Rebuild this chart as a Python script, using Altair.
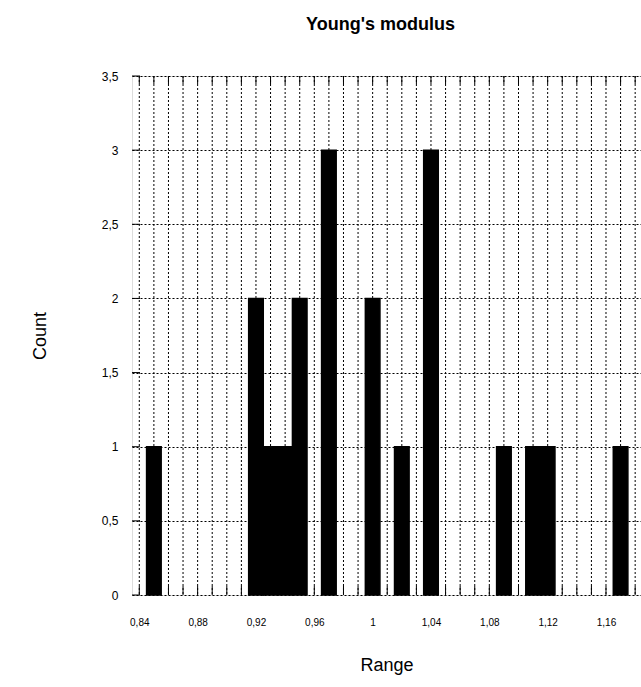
import altair as alt
import pandas as pd

# Data
bin_centers = [0.85, 0.92, 0.93, 0.94, 0.95, 0.97, 1.00, 1.02, 1.04, 1.09, 1.11, 1.12, 1.17]
counts = [1, 2, 1, 1, 2, 3, 2, 1, 3, 1, 1, 1, 1]
bin_width = 0.01

x_tick_labels = ["0,84", "0,88", "0,92", "0,96", "1", "1,04", "1,08", "1,12", "1,16"]
x_grid_values = [round(0.84 + 0.01 * i, 2) for i in range(35)]
y_tick_values = [0, 0.5, 1, 1.5, 2, 2.5, 3, 3.5]

df = pd.DataFrame({"center": bin_centers, "count": counts})
df["start"] = (df["center"] - bin_width / 2).round(4)
df["end"] = (df["center"] + bin_width / 2).round(4)

W, H = 509, 519
XDOM = [0.835, 1.184]
FONT = "Liberation Sans"

xfmt = "replace(format(datum.value, '.2~f'), '.', ',')"
label_list = "[" + ",".join(f"'{s}'" for s in x_tick_labels) + "]"
x_label_expr = f"indexof({label_list}, {xfmt}) >= 0 ? {xfmt} : ''"
y_label_expr = "replace(format(datum.value, '.1~f'), '.', ',')"

x_scale = alt.Scale(domain=XDOM, nice=False, zero=False)
y_scale = alt.Scale(domain=[0, 3.5], nice=False)

xt = pd.DataFrame({"v": x_grid_values})
yt = pd.DataFrame({"v": y_tick_values})

# dotted vertical grid lines every 0.01 (drawn under the bars)
vgrid = alt.Chart(xt).mark_rule(color="black", strokeWidth=1, strokeDash=[2, 2]).encode(
    x=alt.X(
        "v:Q",
        scale=x_scale,
        axis=alt.Axis(
            values=x_grid_values,
            labelExpr=x_label_expr,
            labelOverlap=False,
            labelFlush=False,
            labelBound=False,
            title="Range",
            grid=False,
            ticks=False,
            domain=False,
            labelPadding=22,
            labelFontSize=10,
            labelFont=FONT,
            labelColor="black",
            titleFont=FONT,
            titleFontSize=18,
            titleFontWeight="normal",
            titleColor="black",
            titleY=70,
            titleBaseline="middle",
        ),
    ),
    y=alt.value(0),
    y2=alt.value(H),
)

bars = alt.Chart(df).mark_rect(
    color="black", stroke="black", strokeWidth=1.5
).encode(
    x=alt.X("start:Q", scale=x_scale),
    x2="end:Q",
    y=alt.Y(
        "count:Q",
        scale=y_scale,
        axis=alt.Axis(
            values=y_tick_values,
            labelExpr=y_label_expr,
            title="Count",
            grid=True,
            gridDash=[2, 2],
            gridColor="black",
            gridOpacity=1,
            gridWidth=1,
            ticks=False,
            domain=False,
            labelPadding=14,
            labelFontSize=12,
            labelFont=FONT,
            labelColor="black",
            titleFont=FONT,
            titleFontSize=18,
            titleFontWeight="normal",
            titleColor="black",
            titleX=-92,
            titleY=H / 2,
            titleBaseline="middle",
        ),
    ),
    y2=alt.value(H),
)

# inward tick marks on top and bottom edges, and on the left edge
top_ticks = alt.Chart(xt).mark_rule(color="black", strokeWidth=1).encode(
    x=alt.X("v:Q", scale=x_scale), y=alt.value(0), y2=alt.value(8)
)
bottom_ticks = alt.Chart(xt).mark_rule(color="black", strokeWidth=1).encode(
    x=alt.X("v:Q", scale=x_scale), y=alt.value(H), y2=alt.value(H - 9)
)
left_ticks = alt.Chart(yt).mark_rule(color="black", strokeWidth=1).encode(
    y=alt.Y("v:Q", scale=y_scale), x=alt.value(0), x2=alt.value(8)
)

chart = alt.layer(vgrid, bars, top_ticks, bottom_ticks, left_ticks).properties(
    width=W,
    height=H,
    title=alt.TitleParams(
        "Young's modulus",
        font=FONT,
        fontSize=18,
        fontWeight="bold",
        color="black",
        anchor="middle",
        offset=36,
        dx=-6,
    ),
    autosize=alt.AutoSizeParams(type="none"),
    padding={"left": 132, "top": 76, "right": 0, "bottom": 92},
).configure_view(
    stroke="black", strokeWidth=1.5
).configure(background="white")

chart.save("out.html", embed_options={"renderer": "svg", "actions": False})
